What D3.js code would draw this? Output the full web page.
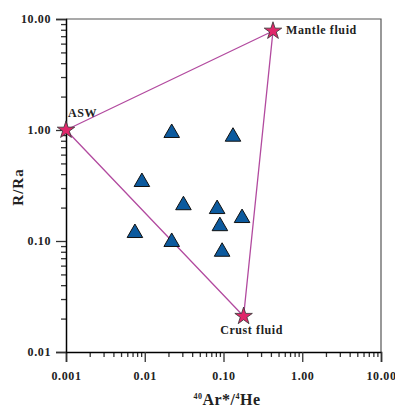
<!DOCTYPE html>
<html>
<head>
<meta charset="utf-8">
<script src="https://cdn.jsdelivr.net/npm/d3@7"></script>
<style>
  body { margin: 0; background: #fff; }
  text { font-family: "Liberation Serif", "Times New Roman", serif; font-weight: bold; fill: #222; }
</style>
</head>
<body>
<div id="main"></div>
<script>
// samples: 40Ar*/4He vs R/Ra
var sampleAr = [0.0075, 0.022, 0.0092, 0.022, 0.031, 0.132, 0.083, 0.090, 0.172, 0.096];
var sampleR  = [0.118, 0.098, 0.34, 0.94, 0.21, 0.87, 0.194, 0.136, 0.161, 0.080];

// end members
var endNames = ['ASW', 'Mantle fluid', 'Crust fluid'];
var endAr = [0.001, 0.425, 0.18];
var endR  = [1.0, 7.8, 0.021];

var xTickValues = [0.001, 0.01, 0.1, 1, 10];
var xTickLabels = ['0.001', '0.01', '0.10', '1.00', '10.00'];
var yTickValues = [0.01, 0.1, 1, 10];
var yTickLabels = ['0.01', '0.10', '1.00', '10.00'];

var svgWidth = 395, svgHeight = 408;
var plotLeft = 66, plotRight = 381, plotTop = 19, plotBottom = 352;

var svg = d3.select('#main').append('svg')
			.attr('width', svgWidth)
			.attr('height', svgHeight);

var x = d3.scaleLog().domain([0.001, 10]).range([plotLeft, plotRight]);
var y = d3.scaleLog().domain([0.01, 10]).range([plotBottom, plotTop]);

// minor ticks 2..9 for each decade
function minorTicks(lo, hi){
	var out = [];
	for(var d = lo; d < hi; d *= 10){
		for(var k = 2; k <= 9; k++) out.push(d * k);
	}
	return out;
}

// frame (top and right)
svg.append('path')
	.attr('d', 'M' + plotLeft + ',' + plotTop + 'H' + plotRight + 'V' + plotBottom)
	.attr('fill', 'none')
	.attr('stroke', '#555')
	.attr('stroke-width', 1.2);

// x axis
svg.append('g')
	.attr('transform', 'translate(0,' + plotBottom + ')')
	.call(d3.axisBottom(x).tickValues(minorTicks(0.001, 10)).tickSize(5).tickFormat(''))
	.call(function(g){ g.select('.domain').remove(); });

svg.append('g')
	.attr('class', 'xmajor')
	.attr('transform', 'translate(0,' + plotBottom + ')')
	.call(d3.axisBottom(x).tickValues(xTickValues).tickSize(10).tickPadding(9)
		.tickFormat(function(d, i){ return xTickLabels[i]; }))
	.call(function(g){ g.select('.domain').attr('stroke-width', 1.5); });

// y axis
svg.append('g')
	.attr('transform', 'translate(' + plotLeft + ',0)')
	.call(d3.axisLeft(y).tickValues(minorTicks(0.01, 10)).tickSize(5).tickFormat(''))
	.call(function(g){ g.select('.domain').remove(); });

svg.append('g')
	.attr('class', 'ymajor')
	.attr('transform', 'translate(' + plotLeft + ',0)')
	.call(d3.axisLeft(y).tickValues(yTickValues).tickSize(10).tickPadding(5)
		.tickFormat(function(d, i){ return yTickLabels[i]; }))
	.call(function(g){ g.select('.domain').attr('stroke-width', 1.5); });

svg.selectAll('.tick line').attr('stroke', '#333').attr('stroke-width', 1.3);
svg.selectAll('.tick text')
	.style('font-family', '"Liberation Serif", serif')
	.style('font-weight', 'bold')
	.style('font-size', '12px')
	.style('letter-spacing', '0.6px')
	.attr('fill', '#333');

// mixing triangle
var tri = endAr.map(function(a, i){ return [x(a), y(endR[i])]; });
svg.append('path')
	.attr('d', d3.line()(tri.concat([tri[0]])))
	.attr('fill', 'none')
	.attr('stroke', '#b24a9f')
	.attr('stroke-width', 1.3);

// samples
svg.selectAll('.sample')
	.data(sampleAr)
	.enter()
	.append('path')
	.attr('class', 'sample')
	.attr('d', d3.symbol().type(d3.symbolTriangle).size(105))
	.attr('transform', function(d, i){ return 'translate(' + x(d) + ',' + y(sampleR[i]) + ')'; })
	.attr('fill', '#0c5a9e')
	.attr('stroke', '#111')
	.attr('stroke-width', 1);

// end members
svg.selectAll('.end')
	.data(endAr)
	.enter()
	.append('path')
	.attr('class', 'end')
	.attr('d', d3.symbol().type(d3.symbolStar).size(95))
	.attr('transform', function(d, i){ return 'translate(' + x(d) + ',' + y(endR[i]) + ')'; })
	.attr('fill', '#e0286a')
	.attr('stroke', '#333')
	.attr('stroke-width', 0.8);

var labelPos = [
	{dx: 2, dy: -13, anchor: 'start'},
	{dx: 13, dy: 3, anchor: 'start'},
	{dx: 8, dy: 18, anchor: 'middle'}
];
svg.selectAll('.endlabel')
	.data(endNames)
	.enter()
	.append('text')
	.attr('class', 'endlabel')
	.attr('x', function(d, i){ return x(endAr[i]) + labelPos[i].dx; })
	.attr('y', function(d, i){ return y(endR[i]) + labelPos[i].dy; })
	.attr('text-anchor', function(d, i){ return labelPos[i].anchor; })
	.style('font-size', '12px')
	.style('letter-spacing', '0.6px')
	.text(function(d){ return d; });

// axis titles
svg.append('text')
	.attr('transform', 'translate(23,187) rotate(-90)')
	.attr('text-anchor', 'middle')
	.style('font-size', '15px')
	.style('letter-spacing', '1px')
	.text('R/Ra');

var xt = svg.append('text')
	.attr('x', 227)
	.attr('y', 405)
	.attr('text-anchor', 'middle')
	.style('font-size', '16px')
	.style('letter-spacing', '0.5px');
xt.append('tspan').attr('dy', -6).style('font-size', '8px').text('40');
xt.append('tspan').attr('dy', 6).text('Ar*/');
xt.append('tspan').attr('dy', -6).style('font-size', '8px').text('4');
xt.append('tspan').attr('dy', 6).text('He');
</script>
</body>
</html>
